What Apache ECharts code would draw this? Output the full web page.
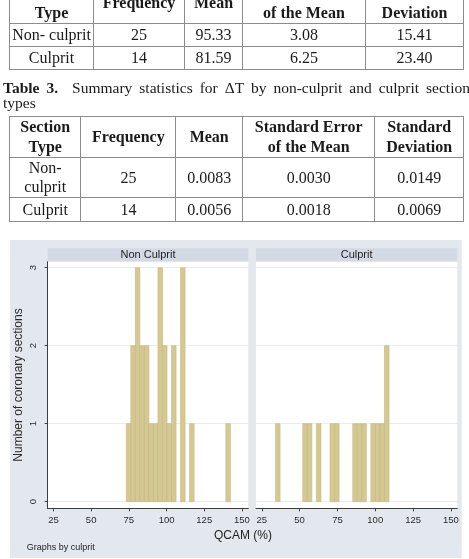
<!DOCTYPE html>
<html>
<head>
<meta charset="utf-8">
<script src="https://cdn.jsdelivr.net/npm/echarts@6/dist/echarts.min.js"></script>
<style>
  html, body { margin: 0; padding: 0; width: 469px; height: 559px; overflow: hidden; background: #fff; }
  #chart { position: absolute; left: 0; top: 0; width: 469px; height: 559px; }
  table.t { position: absolute; border-collapse: collapse; table-layout: fixed;
    font-family: "Liberation Serif", "Times New Roman", serif; font-size: 16px; color: #1a1a1a; z-index: 2; }
  table.t td { border: 1.2px solid #8c8c8c; text-align: center; vertical-align: middle; padding: 0; line-height: 19.6px; }
  table.t td.h { font-weight: bold; }
  .cap { position: absolute; left: 3px; width: 467px; font-family: "Liberation Serif", "Times New Roman", serif;
    font-size: 15.5px; line-height: 15px; color: #1a1a1a; z-index: 2; white-space: nowrap; }
  #cap1 { top: 79.5px; text-align: justify; text-align-last: justify; white-space: normal; }
  #cap2 { top: 94.5px; text-align: left; }
</style>
</head>
<body>
<div id="chart"></div>

<table class="t" style="left:9px; top:-18px;">
  <colgroup><col style="width:84px"><col style="width:91px"><col style="width:58px"><col style="width:123px"><col style="width:98px"></colgroup>
  <tr style="height:40.7px"><td class="h">Section<br>Type</td><td class="h">Frequency</td><td class="h">Mean</td><td class="h">Standard Error<br>of the Mean</td><td class="h">Standard<br>Deviation</td></tr>
  <tr style="height:23.3px"><td>Non- culprit</td><td>25</td><td>95.33</td><td>3.08</td><td>15.41</td></tr>
  <tr style="height:22.7px"><td>Culprit</td><td>14</td><td>81.59</td><td>6.25</td><td>23.40</td></tr>
</table>

<div id="cap1" class="cap"><b>Table 3.</b>&nbsp; Summary statistics for ΔT by non-culprit and culprit section</div>
<div id="cap2" class="cap">types</div>

<table class="t" style="left:9px; top:116px;">
  <colgroup><col style="width:71.4px"><col style="width:95px"><col style="width:66.6px"><col style="width:132.4px"><col style="width:88.6px"></colgroup>
  <tr style="height:40.7px"><td class="h">Section<br>Type</td><td class="h">Frequency</td><td class="h">Mean</td><td class="h">Standard Error<br>of the Mean</td><td class="h">Standard<br>Deviation</td></tr>
  <tr style="height:40.6px"><td>Non-<br>culprit</td><td>25</td><td>0.0083</td><td>0.0030</td><td>0.0149</td></tr>
  <tr style="height:23.4px"><td>Culprit</td><td>14</td><td>0.0056</td><td>0.0018</td><td>0.0069</td></tr>
</table>

<script>
// ---- data ----
const binWidth = 3;
const nonCulpritBinStart = [73.3, 76.3, 79.3, 82.3, 85.3, 88.3, 91.3, 94.3, 97.3, 100.3, 103.3, 109.3, 115.3, 139.3];
const nonCulpritCounts   = [1,    2,    3,    2,    2,    1,    1,    3,    2,    1,     2,     3,     1,     1];
const culpritBinStart = [34.1, 52.1, 55.1, 61.1, 70.1, 73.1, 85.1, 88.1, 91.1, 97.1, 100.1, 103.1, 106.1];
const culpritCounts   = [1,    1,    1,    1,    1,    1,    1,    1,    1,    1,    1,     1,     2];
const xTicks = [25, 50, 75, 100, 125, 150];
const yTicks = [0, 1, 2, 3];
const panelTitles = ['Non Culprit', 'Culprit'];
const xTitle = 'QCAM (%)';
const yTitle = 'Number of coronary sections';
const note = 'Graphs by culprit';

const FONT = '"Liberation Sans", Arial, sans-serif';
const toData = (starts, counts) => starts.map((s, i) => [s, s + binWidth, counts[i]]);

const chart = echarts.init(document.getElementById('chart'));

function renderBar(params, api) {
  const p0 = api.coord([api.value(0), 0]);
  const p1 = api.coord([api.value(1), api.value(2)]);
  return {
    type: 'rect',
    shape: { x: p0[0], y: p1[1], width: p1[0] - p0[0], height: p0[1] - p1[1] },
    style: { fill: '#D5C993', stroke: '#C6B67A', lineWidth: 0.6 }
  };
}

const grids = [
  { left: 47.7, top: 261.7, width: 200.6, height: 246.6 },
  { left: 256,  top: 261.7, width: 201.3, height: 246.6 }
].map(g => Object.assign(g, { show: true, backgroundColor: '#ffffff', borderWidth: 0 }));

const xAxisBase = (gi) => ({
  type: 'value', gridIndex: gi, min: 21.2, max: 154.2,
  axisLine: { show: true, onZero: false, lineStyle: { color: '#3c3c3c', width: 1 } },
  axisTick: { show: true, length: 3, customValues: xTicks, lineStyle: { color: '#3c3c3c' } },
  axisLabel: { customValues: xTicks, fontSize: 9.5, color: '#2a2a2a', fontFamily: FONT, margin: 7 },
  splitLine: { show: false }
});

const yAxisBase = (gi, showAxis) => ({
  type: 'value', gridIndex: gi, min: -0.085, max: 3.077,
  axisLine: { show: showAxis, onZero: false, lineStyle: { color: '#3c3c3c', width: 1 } },
  axisTick: { show: showAxis, length: 3, customValues: yTicks, lineStyle: { color: '#3c3c3c' } },
  axisLabel: { show: showAxis, customValues: yTicks, rotate: 90, fontSize: 9.5, color: '#2a2a2a', fontFamily: FONT, margin: 9 },
  splitLine: { show: true, lineStyle: { color: '#E6ECEF', width: 1 } },
  name: showAxis ? yTitle : '',
  nameLocation: 'middle', nameRotate: 90, nameGap: 23,
  nameTextStyle: { fontSize: 12, color: '#2a2a2a', fontFamily: FONT }
});

chart.setOption({
  animation: false,
  backgroundColor: 'transparent',
  grid: grids,
  xAxis: [xAxisBase(0), xAxisBase(1)],
  yAxis: [yAxisBase(0, true), yAxisBase(1, false)],
  series: [
    { type: 'custom', xAxisIndex: 0, yAxisIndex: 0, renderItem: renderBar, encode: { x: [0, 1], y: 2 }, data: toData(nonCulpritBinStart, nonCulpritCounts), z: 3 },
    { type: 'custom', xAxisIndex: 1, yAxisIndex: 1, renderItem: renderBar, encode: { x: [0, 1], y: 2 }, data: toData(culpritBinStart, culpritCounts), z: 3 }
  ],
  graphic: [
    { type: 'rect', z: -10, shape: { x: 10, y: 240, width: 451.7, height: 318 }, style: { fill: '#E3E8EF' } },
    { type: 'rect', z: -5, shape: { x: 47.7, y: 248.3, width: 200.6, height: 13.4 }, style: { fill: '#D4DAE4' } },
    { type: 'rect', z: -5, shape: { x: 256, y: 248.3, width: 201.3, height: 13.4 }, style: { fill: '#D4DAE4' } },
    { type: 'text', z: 5, x: 148, y: 255, style: { text: panelTitles[0], fontSize: 11, fontFamily: FONT, fill: '#222', textAlign: 'center', textVerticalAlign: 'middle' } },
    { type: 'text', z: 5, x: 356.6, y: 255, style: { text: panelTitles[1], fontSize: 11, fontFamily: FONT, fill: '#222', textAlign: 'center', textVerticalAlign: 'middle' } },
    { type: 'text', z: 5, x: 243, y: 536, style: { text: xTitle, fontSize: 12, fontFamily: FONT, fill: '#222', textAlign: 'center', textVerticalAlign: 'middle' } },
    { type: 'text', z: 5, x: 26.7, y: 547.5, style: { text: note, fontSize: 9, fontFamily: FONT, fill: '#222', textAlign: 'left', textVerticalAlign: 'middle' } }
  ]
});
</script>
</body>
</html>
